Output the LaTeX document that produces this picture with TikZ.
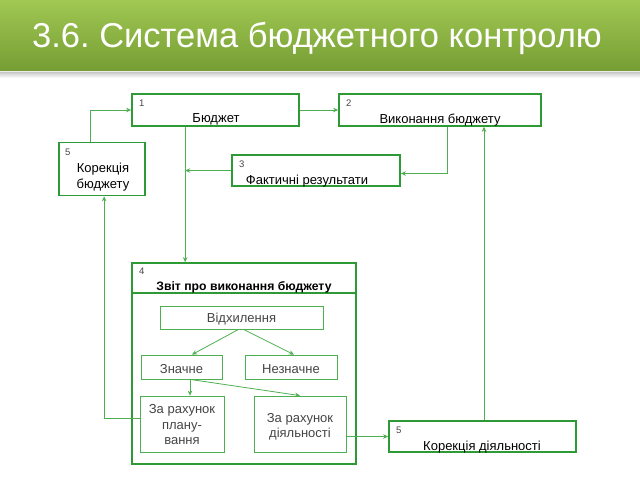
\documentclass[tikz,border=0pt]{standalone}
\usepackage{fontspec}
\setmainfont{Liberation Sans}
\usetikzlibrary{arrows.meta,calc}
\frenchspacing
\definecolor{gtop}{HTML}{A0C852}
\definecolor{gbot}{HTML}{769D34}
\definecolor{bgreen}{HTML}{2E9A35}
\definecolor{lgreen}{HTML}{4DAF4F}
\definecolor{tgray}{HTML}{444444}
\tikzset{
  bigbox/.style={draw=bgreen, line width=1.7pt, rectangle, inner sep=0pt},
  smallbox/.style={draw=lgreen, line width=0.8pt, rectangle, inner sep=0pt},
  numlbl/.style={font=\fontsize{9.5}{10}\selectfont, text=tgray, anchor=west, inner sep=0pt},
  mainlbl/.style={font=\fontsize{13}{15}\selectfont, text=black, inner sep=0pt, yshift=-2pt},
  innerlbl/.style={font=\fontsize{13}{15.5}\selectfont, text=tgray, inner sep=0pt, align=center, yshift=-2pt},
  conn/.style={draw=lgreen, line width=0.8pt},
  arr/.style={conn, -{Stealth[length=5pt,width=4.5pt]}}
}
\begin{document}
\begin{tikzpicture}[x=1pt,y=-1pt]
\useasboundingbox (0,0) rectangle (640,480);
% header
\shade[top color=gtop, bottom color=gbot] (0,0) rectangle (640,71);
\shade[top color=black!25, bottom color=white] (0,71) rectangle (640,78);
\draw[white!85!gray, line width=0.6pt] (0,71.3) -- (640,71.3);
\node[anchor=base west, text=white, font=\fontsize{34.5}{38}\selectfont, inner sep=0pt] (title) at (32,47) {3.6. Система бюджетного контролю};

% main boxes
\node[bigbox, minimum width=167pt, minimum height=32pt] (b1) at (215.5,110) {};
\node[bigbox, minimum width=202pt, minimum height=32pt] (b2) at (440,110) {};
\node[bigbox, minimum width=86pt, minimum height=53pt] (b5a) at (102,169) {};
\node[bigbox, minimum width=168pt, minimum height=31pt] (b3) at (316,170.5) {};
\node[bigbox, minimum width=224pt, minimum height=201pt] (b4) at (244,363.5) {};
\node[bigbox, minimum width=187pt, minimum height=31pt] (b5b) at (482.5,436.5) {};
\draw[bgreen, line width=1.7pt] (b4.north west |- 0,293) coordinate (d1) -- (b4.north east |- 0,293) coordinate (d2);

% labels
\node[numlbl] (n1) at (139,103) {1};
\node[mainlbl] (t1) at (216,117) {Бюджет};
\node[numlbl] (n2) at (346,103) {2};
\node[mainlbl] (t2) at (440,118) {Виконання бюджету};
\node[numlbl] (n5a) at (65,152) {5};
\node[mainlbl, align=center, font=\fontsize{13}{16}\selectfont] (t5a) at (103,175) {Корекція\\бюджету};
\node[numlbl] (n3) at (239,164) {3};
\node[mainlbl] (t3) at (307,179) {Фактичні результати};
\node[numlbl] (n4) at (139,271) {4};
\node[mainlbl, font=\bfseries\fontsize{12.2}{14}\selectfont] (t4) at (244,285) {Звіт про виконання бюджету};
\node[numlbl] (n5b) at (396,430) {5};
\node[mainlbl] (t5b) at (482,445) {Корекція діяльності};

% inner boxes
\node[smallbox, minimum width=163pt, minimum height=23pt] (vd) at (241.5,317.5) {};
\node[innerlbl] (tvd) at (241.5,317.5) {Відхилення};
\node[smallbox, minimum width=81pt, minimum height=24pt] (zn) at (181.5,367) {};
\node[innerlbl] (tzn) at (181.5,367) {Значне};
\node[smallbox, minimum width=92pt, minimum height=24pt] (nz) at (291,367) {};
\node[innerlbl] (tnz) at (291,367) {Незначне};
\node[smallbox, minimum width=84pt, minimum height=56pt] (pl) at (182,424) {};
\node[innerlbl] (tpl) at (182,423) {За рахунок\\плану-\\вання};
\node[smallbox, minimum width=92pt, minimum height=56pt] (dl) at (300,424) {};
\node[innerlbl] (tdl) at (300,425) {За рахунок\\діяльності};

% connectors
\coordinate (c5up) at ([xshift=32pt]b5a.north west);
\draw[arr] (c5up) |- (b1.west);
\draw[arr] (b1.east) -- (b2.west);
\coordinate (c2dn) at ([xshift=7pt]b2.south);
\draw[arr] (c2dn) |- ([yshift=-3pt]b3.east);
\coordinate (v) at ([xshift=54pt]b1.south west);
\draw[arr] (v) -- (v |- b4.north);
\draw[arr] (b3.west) -- (b3.west -| v);
\coordinate (c5b) at ([xshift=46pt]b5a.south west);
\draw[arr] ([yshift=6pt]pl.west) -| (c5b);
\draw[arr] (b5b.west -| dl.east) -- (b5b.west);
\coordinate (c5bup) at ([xshift=1.5pt]b5b.north);
\draw[arr] (c5bup) -- (c5bup |- b2.south);
\draw[arr] ([xshift=-3pt]vd.south) -- ([xshift=10.5pt]zn.north);
\draw[arr] ([xshift=2pt]vd.south) -- ([xshift=3pt]nz.north);
\coordinate (zs) at ([xshift=8.5pt]zn.south);
\draw[arr] (zs) -- (zs |- pl.north);
\draw[arr] (zs) -- (dl.north);
\end{tikzpicture}
\end{document}
